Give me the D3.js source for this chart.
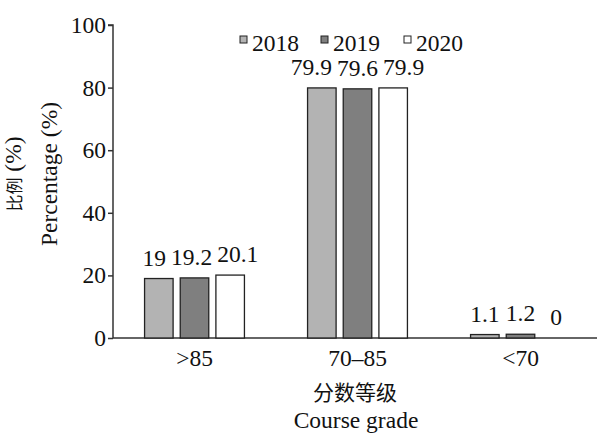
<!DOCTYPE html>
<html>
<head>
<meta charset="utf-8">
<script src="https://cdn.jsdelivr.net/npm/d3@7"></script>
<style>
  body { margin: 0; background: #fff; }
</style>
</head>
<body>
<svg id="chart" width="597" height="434"></svg>
<script>
const grades = ['>85', '70\u201385', '<70'];
const years = ['2018', '2019', '2020'];
const v2018 = [19, 79.9, 1.1];
const v2019 = [19.2, 79.6, 1.2];
const v2020 = [20.1, 79.9, 0];
const yTicks = [0, 20, 40, 60, 80, 100];
const colors = ['#b3b3b3', '#7f7f7f', '#ffffff'];

const series = [v2018, v2019, v2020];
const serif = '"Liberation Serif", "Times New Roman", serif';
const cjk = '"Noto Sans CJK SC", sans-serif';
const fs = 23.5;

const svg = d3.select('#chart')
  .attr('font-family', serif).attr('font-size', fs).attr('fill', '#111');

const x = d3.scaleBand().domain(grades).range([113, 602]);
const xi = d3.scaleBand().domain(years).range([0, 107]).paddingInner(0.2).paddingOuter(0.1);
const y = d3.scaleLinear().domain([0, 100]).range([338, 25]);

// y axis
const ya = svg.append('g').attr('transform', 'translate(113,0)')
  .call(d3.axisLeft(y).tickValues(yTicks).tickSize(5).tickPadding(2))
  .attr('font-family', serif).attr('font-size', fs);
ya.select('.domain').attr('stroke', '#333').attr('stroke-width', 1.5)
  .attr('d', 'M-5,25H0V338');
ya.selectAll('.tick line').attr('stroke', '#333').attr('stroke-width', 1.5);
ya.selectAll('.tick text').attr('fill', '#111');

// x axis
const xa = svg.append('g').attr('transform', 'translate(0,338)')
  .call(d3.axisBottom(x).tickSize(0).tickPadding(11))
  .attr('font-family', serif).attr('font-size', fs);
xa.select('.domain').attr('stroke', '#333').attr('stroke-width', 1.5).attr('d', 'M113,0H597');
xa.selectAll('.tick text').attr('fill', '#111').attr('dy', '0.71em');

// bars + value labels
grades.forEach((g, i) => {
  const grp = svg.append('g').attr('transform', `translate(${x(g) + x.bandwidth() / 2 - 53.5},0)`);
  const labels = [];
  years.forEach((yr, j) => {
    const v = series[j][i];
    grp.append('rect')
      .attr('x', xi(yr)).attr('width', xi.bandwidth())
      .attr('y', y(v)).attr('height', y(0) - y(v))
      .attr('fill', colors[j]).attr('stroke', '#222').attr('stroke-width', 1.3);
    const t = grp.append('text')
      .attr('y', y(v) - 13).attr('text-anchor', 'middle').text(v);
    const w = t.node().getComputedTextLength();
    labels.push({ t, c: xi(yr) + xi.bandwidth() / 2, w });
  });
  // push overlapping labels apart
  const gap = 5;
  for (let k = 0; k < 50; k++) {
    for (let j = 0; j < labels.length - 1; j++) {
      const a = labels[j], b = labels[j + 1];
      const d = (a.c + a.w / 2 + gap) - (b.c - b.w / 2);
      if (d > 0) { a.c -= d / 2; b.c += d / 2; }
    }
  }
  labels.forEach(l => l.t.attr('x', l.c));
});

// legend
const lx = [240, 321, 404];
years.forEach((yr, j) => {
  svg.append('rect').attr('x', lx[j]).attr('y', 36).attr('width', 7).attr('height', 7)
    .attr('fill', colors[j]).attr('stroke', '#222').attr('stroke-width', 1);
  svg.append('text').attr('x', lx[j] + 12).attr('y', 51).text(yr);
});

// axis titles
const yl = svg.append('text').attr('transform', 'translate(21,174) rotate(-90)')
  .attr('text-anchor', 'middle');
yl.append('tspan').attr('font-family', cjk).attr('font-size', 17).text('比例');
yl.append('tspan').text(' (%)');
svg.append('text').attr('transform', 'translate(57,174) rotate(-90)')
  .attr('text-anchor', 'middle').text('Percentage (%)');
svg.append('text').attr('x', 355).attr('y', 400).attr('font-family', cjk).attr('font-size', 21)
  .attr('text-anchor', 'middle').text('分数等级');
svg.append('text').attr('x', 356).attr('y', 428)
  .attr('text-anchor', 'middle').text('Course grade');
</script>
</body>
</html>
